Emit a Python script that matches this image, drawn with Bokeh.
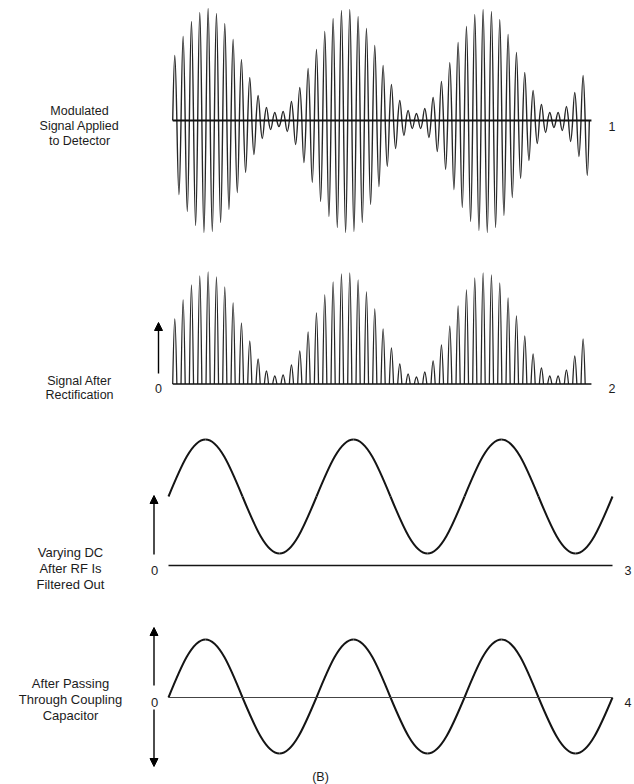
import numpy as np
from bokeh.plotting import figure
from bokeh.layouts import column
from bokeh.models import ColumnDataSource, Label, Arrow, NormalHead, Range1d
from bokeh.embed import file_html
from bokeh.resources import INLINE

# ---------------- data ----------------
# Panel 1: amplitude of each positive peak / negative trough of the RF carrier, per carrier cycle
mod_peaks = [65, 84, 99, 108, 112, 107, 97, 81, 61, 43,
             25, 13, 8, 9, 19, 33, 52, 71, 89, 102,
             110, 111, 104, 92, 75, 55, 36, 20, 10, 7,
             12, 23, 39, 58, 78, 94, 106, 111, 109, 101,
             86, 68, 48, 30, 16, 8, 8, 14, 28, 45]
mod_troughs = [74, 91, 105, 112, 111, 102, 89, 72, 52, 34,
               18, 9, 6, 11, 24, 42, 62, 81, 96, 107,
               112, 111, 102, 84, 66, 46, 28, 15, 8, 8,
               17, 31, 49, 69, 87, 101, 110, 112, 107, 95,
               77, 58, 40, 23, 12, 7, 10, 21, 36, 55]
# Panel 2: half-wave rectified lobes (heights per carrier cycle)
rect_peaks = list(mod_peaks)
# Panel 3: varying DC, value at every quarter of the audio period
dc_levels = [69, 126, 69, 12, 69, 126, 69, 12, 69, 126, 69, 12, 69]
# Panel 4: after coupling capacitor, value at every quarter period
ac_levels = [0, 58, 0, -56, 0, 58, 0, -56, 0, 58, 0, -56, 0]

label1 = ["Modulated", "Signal Applied", "to Detector"]
label2 = ["Signal After", "Rectification"]
label3 = ["Varying DC", "After RF Is", "Filtered Out"]
label4 = ["After Passing", "Through Coupling", "Capacitor"]
panel_numbers = ["1", "2", "3", "4"]
caption = "(B)"

# ---------------- layout ----------------
W = 634
FONT = "Liberation Sans"
INK = "#1c1c1c"


def make_fig(top, h, base, x0_page, scale):
    p = figure(width=W, height=h, output_backend="svg", toolbar_location=None,
               x_axis_type=None, y_axis_type=None, min_border=0,
               x_range=Range1d((0 - x0_page) / scale, (W - x0_page) / scale),
               y_range=Range1d(base - (top + h), base - top))
    p.outline_line_color = None
    p.grid.visible = False
    p.background_fill_color = "white"
    p.border_fill_color = "white"
    fx = lambda X: (X - x0_page) / scale
    fy = lambda Y: base - Y
    return p, fx, fy


def add_text(p, x, y, txt, size="12.5px", align="center"):
    p.add_layout(Label(x=x, y=y, text=txt, text_align=align, text_baseline="alphabetic",
                       text_font=FONT, text_font_size=size, text_color=INK))


def add_arrow(p, xs, ys, xe, ye):
    p.add_layout(Arrow(end=NormalHead(size=8, fill_color="black", line_color="black", line_width=1),
                       x_start=xs, y_start=ys, x_end=xe, y_end=ye,
                       line_color="black", line_width=1.4))


RF0, RFS = 172.2, 8.333   # page x of start, px per carrier cycle
LF0, LFS = 168.0, 148.0   # page x of start, px per audio period
K_HALF = 0.4244           # cubic control offset for a half sine
C_Q, D_Q, Y_Q = 0.3343, 0.3597, 0.5251  # quarter-sine control factors

# ---------- Panel 1 ----------
p1, fx1, fy1 = make_fig(0, 255, 120, RF0, RFS)
n = len(mod_peaks)
amps = []
for a, b in zip(mod_peaks, mod_troughs):
    amps += [a, -b]
x0 = np.arange(len(amps)) * 0.5
x1 = x0 + 0.5
amps = np.array(amps, dtype=float)
src1 = ColumnDataSource(dict(x0=x0, y0=np.zeros_like(x0), x1=x1, y1=np.zeros_like(x0),
                             cx0=x0 + K_HALF * 0.5, cy0=amps * 4 / 3,
                             cx1=x1 - K_HALF * 0.5, cy1=amps * 4 / 3))
p1.bezier("x0", "y0", "x1", "y1", "cx0", "cy0", "cx1", "cy1", source=src1,
          line_color="#262626", line_width=1.4)
p1.line([0, n + 0.25], [0, 0], line_color="#111111", line_width=2)
for i, t in enumerate(label1):
    add_text(p1, fx1(79), fy1(110 + i * 15.3), t)
add_text(p1, fx1(608), fy1(126), panel_numbers[0], align="left")

# ---------- Panel 2 ----------
p2, fx2, fy2 = make_fig(255, 150, 383.5, RF0, RFS)
k = np.arange(len(rect_peaks), dtype=float)
rp = np.array(rect_peaks, dtype=float)
src2 = ColumnDataSource(dict(x0=k, y0=np.zeros_like(k), x1=k + 0.5, y1=np.zeros_like(k),
                             cx0=k + K_HALF * 0.5, cy0=rp * 4 / 3,
                             cx1=k + 0.5 - K_HALF * 0.5, cy1=rp * 4 / 3))
p2.bezier("x0", "y0", "x1", "y1", "cx0", "cy0", "cx1", "cy1", source=src2,
          line_color="#262626", line_width=1.3)
p2.line([0, len(rect_peaks) + 0.25], [0, 0], line_color="#111111", line_width=1.6)
add_arrow(p2, fx2(158), fy2(373), fx2(158), fy2(322))
add_text(p2, fx2(158), fy2(388), "0")
for i, t in enumerate(label2):
    add_text(p2, fx2(79), fy2(380 + i * 14.5), t)
add_text(p2, fx2(608), fy2(388), panel_numbers[1], align="left")


def quarter_sine_source(levels):
    xs0, ys0, xs1, ys1, c0x, c0y, c1x, c1y = [], [], [], [], [], [], [], []
    q = 0.25
    for j in range(len(levels) - 1):
        xa, xb = j * q, (j + 1) * q
        ya, yb = levels[j], levels[j + 1]
        if j % 2 == 0:   # from mid level to an extreme
            cax, cay = xa + C_Q * q, ya + Y_Q * (yb - ya)
            cbx, cby = xb - D_Q * q, yb
        else:            # from an extreme to mid level
            cax, cay = xa + D_Q * q, ya
            cbx, cby = xb - C_Q * q, yb + Y_Q * (ya - yb)
        xs0.append(xa); ys0.append(ya); xs1.append(xb); ys1.append(yb)
        c0x.append(cax); c0y.append(cay); c1x.append(cbx); c1y.append(cby)
    return ColumnDataSource(dict(x0=xs0, y0=ys0, x1=xs1, y1=ys1,
                                 cx0=c0x, cy0=c0y, cx1=c1x, cy1=c1y))


# ---------- Panel 3 ----------
p3, fx3, fy3 = make_fig(405, 200, 565, LF0, LFS)
p3.bezier("x0", "y0", "x1", "y1", "cx0", "cy0", "cx1", "cy1",
          source=quarter_sine_source(dc_levels), line_color="#151515", line_width=2)
span3 = (len(dc_levels) - 1) / 4
p3.line([0, span3], [0, 0], line_color="#151515", line_width=1.6)
add_arrow(p3, fx3(153.5), fy3(554), fx3(153.5), fy3(495))
add_text(p3, fx3(154), fy3(570), "0", size="13px")
for i, t in enumerate(label3):
    add_text(p3, fx3(70), fy3(551.5 + i * 16.2), t, size="13px")
add_text(p3, fx3(624), fy3(570), panel_numbers[2], size="12.5px", align="left")

# ---------- Panel 4 ----------
p4, fx4, fy4 = make_fig(605, 179, 697, LF0, LFS)
p4.bezier("x0", "y0", "x1", "y1", "cx0", "cy0", "cx1", "cy1",
          source=quarter_sine_source(ac_levels), line_color="#151515", line_width=2)
span4 = (len(ac_levels) - 1) / 4
p4.line([0, span4], [0, 0], line_color="#444444", line_width=1)
add_arrow(p4, fx4(153.5), fy4(685), fx4(153.5), fy4(627))
add_arrow(p4, fx4(153.5), fy4(709), fx4(153.5), fy4(766))
add_text(p4, fx4(154), fy4(701.5), "0", size="13px")
for i, t in enumerate(label4):
    add_text(p4, fx4(70), fy4(682.5 + i * 16.2), t, size="13px")
add_text(p4, fx4(624), fy4(701.5), panel_numbers[3], size="12.5px", align="left")
add_text(p4, fx4(320), fy4(776), caption)

layout = column(p1, p2, p3, p4, spacing=0)
open("out.html", "w").write(file_html(layout, INLINE))
